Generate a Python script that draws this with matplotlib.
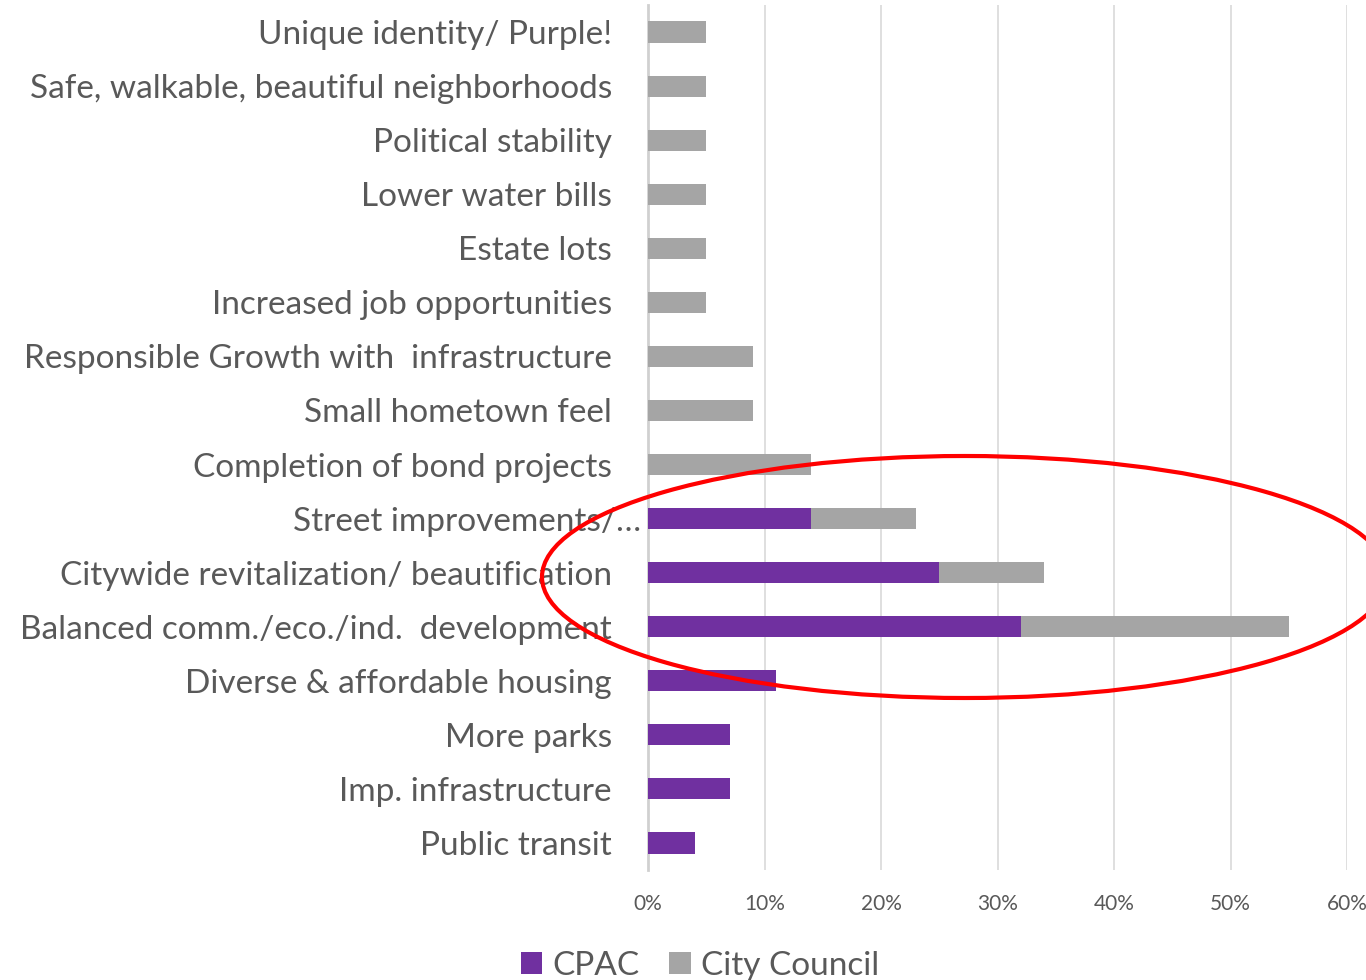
import matplotlib
matplotlib.use("Agg")
import matplotlib.pyplot as plt
from matplotlib.patches import Ellipse
from matplotlib.transforms import ScaledTranslation

# Categories, top to bottom as shown
categories = [
    'Unique identity/ Purple!',
    'Safe, walkable, beautiful neighborhoods',
    'Political stability',
    'Lower water bills',
    'Estate lots',
    'Increased job opportunities',
    'Responsible Growth with  infrastructure',
    'Small hometown feel',
    'Completion of bond projects',
    'Street improvements/\u2026',
    'Citywide revitalization/ beautification',
    'Balanced comm./eco./ind.  development',
    'Diverse & affordable housing',
    'More parks',
    'Imp. infrastructure',
    'Public transit',
]
cpac = [0, 0, 0, 0, 0, 0, 0, 0, 0, 0.14, 0.25, 0.32, 0.11, 0.07, 0.07, 0.04]
city_council = [0.05, 0.05, 0.05, 0.05, 0.05, 0.05, 0.09, 0.09, 0.14, 0.09, 0.09, 0.23, 0, 0, 0, 0]
x_ticks = [0, 0.1, 0.2, 0.3, 0.4, 0.5, 0.6]
x_tick_labels = ['0%', '10%', '20%', '30%', '40%', '50%', '60%']

PURPLE = '#7030A0'
GRAY = '#A5A5A5'
TEXT = '#595959'

plt.rcParams['font.family'] = ['Lato', 'DejaVu Sans']

fig = plt.figure(figsize=(13.66, 9.8), dpi=100)
ax = fig.add_axes([648 / 1366, 1 - 870 / 980, (1347 - 648) / 1366, 865 / 980])

y = list(range(len(categories)))
ax.barh(y, cpac, height=0.39, color=PURPLE, label='CPAC', zorder=3)
ax.barh(y, city_council, left=cpac, height=0.39, color=GRAY, label='City Council', zorder=3)

ax.set_xlim(0, 0.6)
ax.set_ylim(len(categories) - 0.5, -0.5)
ax.set_xticks(x_ticks)
ax.set_xticklabels(x_tick_labels, fontsize=15, color=TEXT)
ax.set_yticks(y)
ax.set_yticklabels(categories, fontsize=24, color=TEXT)
ax.tick_params(axis='x', length=0, pad=17)
ax.tick_params(axis='y', length=0, pad=26)
ax.grid(axis='x', color='#D9D9D9', linewidth=1.2, zorder=0)
for side in ['top', 'right', 'bottom']:
    ax.spines[side].set_visible(False)
ax.spines['left'].set_color('#D0D0D0')
ax.spines['left'].set_linewidth(2)

# truncated label sticks out to the right in the original
street = ax.get_yticklabels()[9]
street.set_transform(street.get_transform() + ScaledTranslation(0.29, 0, fig.dpi_scale_trans))

# red highlight ellipse (figure coords)
ell = Ellipse((965 / 1366, 1 - 577 / 980), width=846 / 1366, height=242 / 980,
              transform=fig.transFigure, fill=False, edgecolor='#FF0000',
              linewidth=3, zorder=10, clip_on=False)
fig.patches.append(ell)

leg = fig.legend(loc='center', bbox_to_anchor=(700 / 1366, 1 - 966 / 980), ncol=2,
                 frameon=False, fontsize=24, handlelength=0.65, handleheight=0.65,
                 handletextpad=0.3, columnspacing=0.9)
for t in leg.get_texts():
    t.set_color(TEXT)

fig.savefig('out.png', dpi=100)
